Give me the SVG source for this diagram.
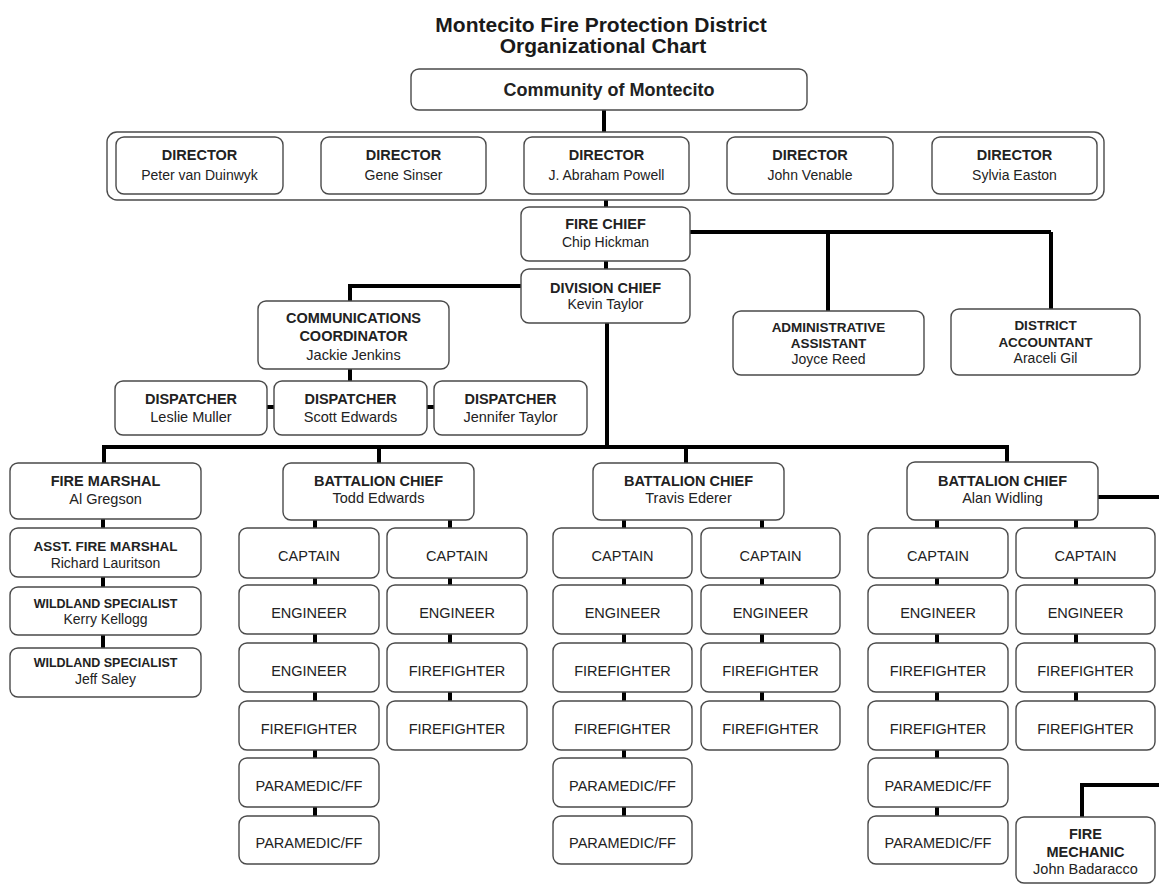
<svg xmlns="http://www.w3.org/2000/svg" width="1159" height="884" viewBox="0 0 1159 884">
<style>
text{font-family:"Liberation Sans",Arial,sans-serif;fill:#222;text-anchor:middle}
.h{font-size:21px;font-weight:bold;fill:#1a1a1a}
.c{font-size:18px;font-weight:bold}
.t{font-size:14.5px;font-weight:bold}
.n{font-size:14px}
.r{font-size:14.5px}
.s{font-size:13.5px;font-weight:bold}
.w{font-size:12.5px;font-weight:bold}
rect{fill:#fff;stroke:#4a4a4a;stroke-width:1.4}
.cn path{fill:none;stroke:#000;stroke-width:4}
</style>
<rect x="0" y="0" width="1159" height="884" style="fill:#fff;stroke:none"/>
<g id="title">
<text class="h" x="601" y="32">Montecito Fire Protection District</text>
<text class="h" x="603" y="53">Organizational Chart</text>
</g>
<g class="cn" id="connectors">
<path d="M604 110V137"/>
<path d="M606 194V207"/>
<path d="M606 261V269"/>
<path d="M690 232H1051M828 232V311M1051 232V309"/>
<path d="M522 286H350V301"/>
<path d="M350 369V381"/>
<path d="M267 407H274M427 407H434"/>
<path d="M607 323V447"/>
<path d="M104 463V447H1007V462M379 447V463M686 447V463"/>
<path d="M103 519V528M103 577V587M103 635V648"/>
<path d="M315 520V528M315 578V585M315 634V643M315 692V701M315 750V758M315 807V816"/>
<path d="M450 520V528M450 578V585M450 634V643M450 692V701"/>
<path d="M624 520V528M624 578V585M624 634V643M624 692V701M624 750V758M624 807V816"/>
<path d="M762 520V528M762 578V585M762 634V643M762 692V701"/>
<path d="M937 520V528M937 578V585M937 634V643M937 692V701M937 750V758M937 807V816"/>
<path d="M1076 520V528M1076 578V585M1076 634V643M1076 692V701"/>
<path d="M1098 497H1159"/>
<path d="M1082 817V785H1159"/>
</g>
<g id="community"><rect x="411" y="69" width="396" height="41" rx="8"/><text class="c" x="609" y="96">Community of Montecito</text></g>
<g id="board"><rect x="107" y="132" width="997" height="68" rx="10"/></g>
<g id="dir1"><rect x="116" y="137" width="167" height="57" rx="8"/><text class="t" x="199.5" y="160">DIRECTOR</text><text class="n" x="199.5" y="180">Peter van Duinwyk</text></g>
<g id="dir2"><rect x="321" y="137" width="165" height="57" rx="8"/><text class="t" x="403.5" y="160">DIRECTOR</text><text class="n" x="403.5" y="180">Gene Sinser</text></g>
<g id="dir3"><rect x="524" y="137" width="165" height="57" rx="8"/><text class="t" x="606.5" y="160">DIRECTOR</text><text class="n" x="606.5" y="180">J. Abraham Powell</text></g>
<g id="dir4"><rect x="727" y="137" width="166" height="57" rx="8"/><text class="t" x="810" y="160">DIRECTOR</text><text class="n" x="810" y="180">John Venable</text></g>
<g id="dir5"><rect x="932" y="137" width="165" height="57" rx="8"/><text class="t" x="1014.5" y="160">DIRECTOR</text><text class="n" x="1014.5" y="180">Sylvia Easton</text></g>
<g id="firechief"><rect x="521" y="207" width="169" height="54" rx="8"/><text class="t" x="605.5" y="229">FIRE CHIEF</text><text class="n" x="605.5" y="247">Chip Hickman</text></g>
<g id="divchief"><rect x="521" y="269" width="169" height="54" rx="8"/><text class="t" x="605.5" y="293">DIVISION CHIEF</text><text class="n" x="605.5" y="309">Kevin Taylor</text></g>
<g id="admin"><rect x="733" y="311" width="191" height="64" rx="8"/><text class="s" x="828.5" y="332">ADMINISTRATIVE</text><text class="s" x="828.5" y="348">ASSISTANT</text><text class="n" x="828.5" y="364">Joyce Reed</text></g>
<g id="accountant"><rect x="951" y="309" width="189" height="66" rx="8"/><text class="s" x="1045.5" y="330">DISTRICT</text><text class="s" x="1045.5" y="347">ACCOUNTANT</text><text class="n" x="1045.5" y="363">Araceli Gil</text></g>
<g id="comms"><rect x="258" y="301" width="191" height="68" rx="8"/><text class="t" x="353.5" y="323">COMMUNICATIONS</text><text class="t" x="353.5" y="341">COORDINATOR</text><text class="r" x="353.5" y="360">Jackie Jenkins</text></g>
<g id="disp1"><rect x="115" y="381" width="152" height="54" rx="8"/><text class="t" x="191" y="404">DISPATCHER</text><text class="r" x="191" y="422">Leslie Muller</text></g>
<g id="disp2"><rect x="274" y="381" width="153" height="54" rx="8"/><text class="t" x="350.5" y="404">DISPATCHER</text><text class="r" x="350.5" y="422">Scott Edwards</text></g>
<g id="disp3"><rect x="434" y="381" width="153" height="54" rx="8"/><text class="t" x="510.5" y="404">DISPATCHER</text><text class="r" x="510.5" y="422">Jennifer Taylor</text></g>
<g id="firemarshal"><rect x="10" y="463" width="191" height="56" rx="8"/><text class="t" x="105.5" y="486">FIRE MARSHAL</text><text class="r" x="105.5" y="504">Al Gregson</text></g>
<g id="asstfm"><rect x="10" y="528" width="191" height="49" rx="8"/><text class="s" x="105.5" y="551">ASST. FIRE MARSHAL</text><text class="n" x="105.5" y="568">Richard Lauritson</text></g>
<g id="wild1"><rect x="10" y="587" width="191" height="48" rx="8"/><text class="w" x="105.5" y="608">WILDLAND SPECIALIST</text><text class="n" x="105.5" y="624">Kerry Kellogg</text></g>
<g id="wild2"><rect x="10" y="648" width="191" height="49" rx="8"/><text class="w" x="105.5" y="667">WILDLAND SPECIALIST</text><text class="n" x="105.5" y="684">Jeff Saley</text></g>
<g id="bc1"><rect x="283" y="463" width="191" height="57" rx="8"/><text class="t" x="378.5" y="486">BATTALION CHIEF</text><text class="r" x="378.5" y="503">Todd Edwards</text></g>
<g id="bc2"><rect x="593" y="463" width="191" height="57" rx="8"/><text class="t" x="688.5" y="486">BATTALION CHIEF</text><text class="r" x="688.5" y="503">Travis Ederer</text></g>
<g id="bc3"><rect x="907" y="462" width="191" height="58" rx="8"/><text class="t" x="1002.5" y="486">BATTALION CHIEF</text><text class="r" x="1002.5" y="503">Alan Widling</text></g>
<g id="b1l1"><rect x="239" y="528" width="140" height="50" rx="8"/><text class="r" x="309" y="561">CAPTAIN</text></g>
<g id="b1l2"><rect x="239" y="585" width="140" height="49" rx="8"/><text class="r" x="309" y="618">ENGINEER</text></g>
<g id="b1l3"><rect x="239" y="643" width="140" height="49" rx="8"/><text class="r" x="309" y="676">ENGINEER</text></g>
<g id="b1l4"><rect x="239" y="701" width="140" height="49" rx="8"/><text class="r" x="309" y="734">FIREFIGHTER</text></g>
<g id="b1l5"><rect x="239" y="758" width="140" height="49" rx="8"/><text class="r" x="309" y="791">PARAMEDIC/FF</text></g>
<g id="b1l6"><rect x="239" y="816" width="140" height="48" rx="8"/><text class="r" x="309" y="848">PARAMEDIC/FF</text></g>
<g id="b1r1"><rect x="387" y="528" width="140" height="50" rx="8"/><text class="r" x="457" y="561">CAPTAIN</text></g>
<g id="b1r2"><rect x="387" y="585" width="140" height="49" rx="8"/><text class="r" x="457" y="618">ENGINEER</text></g>
<g id="b1r3"><rect x="387" y="643" width="140" height="49" rx="8"/><text class="r" x="457" y="676">FIREFIGHTER</text></g>
<g id="b1r4"><rect x="387" y="701" width="140" height="49" rx="8"/><text class="r" x="457" y="734">FIREFIGHTER</text></g>
<g id="b2l1"><rect x="553" y="528" width="139" height="50" rx="8"/><text class="r" x="622.5" y="561">CAPTAIN</text></g>
<g id="b2l2"><rect x="553" y="585" width="139" height="49" rx="8"/><text class="r" x="622.5" y="618">ENGINEER</text></g>
<g id="b2l3"><rect x="553" y="643" width="139" height="49" rx="8"/><text class="r" x="622.5" y="676">FIREFIGHTER</text></g>
<g id="b2l4"><rect x="553" y="701" width="139" height="49" rx="8"/><text class="r" x="622.5" y="734">FIREFIGHTER</text></g>
<g id="b2l5"><rect x="553" y="758" width="139" height="49" rx="8"/><text class="r" x="622.5" y="791">PARAMEDIC/FF</text></g>
<g id="b2l6"><rect x="553" y="816" width="139" height="48" rx="8"/><text class="r" x="622.5" y="848">PARAMEDIC/FF</text></g>
<g id="b2r1"><rect x="701" y="528" width="139" height="50" rx="8"/><text class="r" x="770.5" y="561">CAPTAIN</text></g>
<g id="b2r2"><rect x="701" y="585" width="139" height="49" rx="8"/><text class="r" x="770.5" y="618">ENGINEER</text></g>
<g id="b2r3"><rect x="701" y="643" width="139" height="49" rx="8"/><text class="r" x="770.5" y="676">FIREFIGHTER</text></g>
<g id="b2r4"><rect x="701" y="701" width="139" height="49" rx="8"/><text class="r" x="770.5" y="734">FIREFIGHTER</text></g>
<g id="b3l1"><rect x="868" y="528" width="140" height="50" rx="8"/><text class="r" x="938" y="561">CAPTAIN</text></g>
<g id="b3l2"><rect x="868" y="585" width="140" height="49" rx="8"/><text class="r" x="938" y="618">ENGINEER</text></g>
<g id="b3l3"><rect x="868" y="643" width="140" height="49" rx="8"/><text class="r" x="938" y="676">FIREFIGHTER</text></g>
<g id="b3l4"><rect x="868" y="701" width="140" height="49" rx="8"/><text class="r" x="938" y="734">FIREFIGHTER</text></g>
<g id="b3l5"><rect x="868" y="758" width="140" height="49" rx="8"/><text class="r" x="938" y="791">PARAMEDIC/FF</text></g>
<g id="b3l6"><rect x="868" y="816" width="140" height="48" rx="8"/><text class="r" x="938" y="848">PARAMEDIC/FF</text></g>
<g id="b3r1"><rect x="1016" y="528" width="139" height="50" rx="8"/><text class="r" x="1085.5" y="561">CAPTAIN</text></g>
<g id="b3r2"><rect x="1016" y="585" width="139" height="49" rx="8"/><text class="r" x="1085.5" y="618">ENGINEER</text></g>
<g id="b3r3"><rect x="1016" y="643" width="139" height="49" rx="8"/><text class="r" x="1085.5" y="676">FIREFIGHTER</text></g>
<g id="b3r4"><rect x="1016" y="701" width="139" height="49" rx="8"/><text class="r" x="1085.5" y="734">FIREFIGHTER</text></g>
<g id="mechanic"><rect x="1016" y="817" width="139" height="66" rx="8"/><text class="t" x="1085.5" y="839">FIRE</text><text class="t" x="1085.5" y="857">MECHANIC</text><text class="r" x="1085.5" y="874">John Badaracco</text></g>
</svg>
